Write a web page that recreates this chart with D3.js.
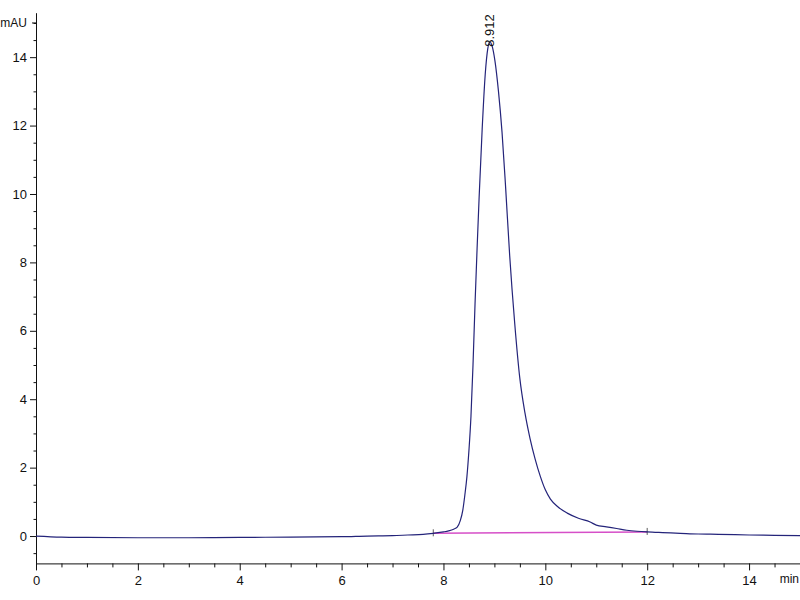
<!DOCTYPE html>
<html lang="en">
<head>
    <meta charset="utf-8">
    <style>
        body { margin: 0; background: #fff; }
        svg text { font-family: "Liberation Sans", Arial, sans-serif; fill: #111; }
        .axis path, .axis line { stroke: #111; }
    </style>
    <script src="https://d3js.org/d3.v7.min.js"></script>
</head>
<body>
<script>
    var width = 800, height = 600;

    // chromatogram trace (time in min, signal in mAU)
    var timeMin = [0, 0.5, 1, 2, 3, 4, 5, 6, 6.5, 7, 7.3, 7.6, 7.8, 8.0, 8.1, 8.2, 8.27, 8.33,
                   8.38, 8.42, 8.46, 8.5, 8.54, 8.58, 8.62, 8.66, 8.7, 8.76, 8.82, 8.87, 8.912, 8.96,
                   9.01, 9.08, 9.15, 9.22, 9.3, 9.4, 9.5, 9.6, 9.7, 9.8, 9.9, 10.0, 10.1, 10.25,
                   10.43, 10.65, 10.88, 11.0, 11.2, 11.4, 11.6, 11.8, 12.0, 12.3, 12.65, 13.0,
                   13.4, 14.0, 14.5, 15.0];
    var signal = [0, -0.03, -0.04, -0.05, -0.05, -0.04, -0.03, -0.02, 0, 0.01, 0.03, 0.05, 0.08,
                  0.12, 0.15, 0.2, 0.26, 0.45, 0.76, 1.2, 1.73, 2.5, 3.5, 5.0, 6.8, 8.4, 9.9, 11.9,
                  13.5, 14.25, 14.45, 14.3, 13.9, 13.0, 11.8, 10.2, 8.2, 6.2, 4.6, 3.6, 2.85, 2.25,
                  1.75, 1.35, 1.08, 0.85, 0.67, 0.52, 0.41, 0.32, 0.27, 0.22, 0.17, 0.14, 0.12, 0.1,
                  0.08, 0.06, 0.05, 0.03, 0.02, 0.01];

    // integration baseline
    var baseTime = [7.8, 12.0];
    var baseValue = [0.08, 0.12];

    var peakTime = 8.912, peakHeight = 14.45, peakLabel = "8.912";

    var xMajor = [0, 2, 4, 6, 8, 10, 12, 14];
    var yMajor = [0, 2, 4, 6, 8, 10, 12, 14];

    var svg = d3.select("body").append("svg")
        .attr("width", width)
        .attr("height", height);

    var x = d3.scaleLinear().domain([0, 15]).range([36, 800]);
    var y = d3.scaleLinear().domain([-0.8, 15.3]).range([563.4, 12.7]);

    // minor ticks every 0.5
    var xMinor = d3.range(0, 15.01, 0.5).filter(function(d) { return d % 2 !== 0; });
    var yMinor = d3.range(-0.5, 15.01, 0.5).filter(function(d) { return d % 2 !== 0 || d < 0; });

    svg.append("g").attr("class", "axis")
        .attr("transform", "translate(0," + y(-0.8) + ")")
        .call(d3.axisBottom(x).tickValues(xMinor).tickSize(4).tickFormat("").tickSizeOuter(0))
        .select(".domain").remove();

    var xAxis = svg.append("g").attr("class", "axis")
        .attr("transform", "translate(0," + y(-0.8) + ")")
        .call(d3.axisBottom(x).tickValues(xMajor).tickSize(7).tickSizeOuter(0).tickPadding(5));
    xAxis.selectAll("text").style("font-size", "13px");

    svg.append("g").attr("class", "axis")
        .attr("transform", "translate(" + x(0) + ",0)")
        .call(d3.axisLeft(y).tickValues(yMinor).tickSize(2.5).tickFormat("").tickSizeOuter(0))
        .select(".domain").remove();

    var yAxis = svg.append("g").attr("class", "axis")
        .attr("transform", "translate(" + x(0) + ",0)")
        .call(d3.axisLeft(y).tickValues(yMajor).tickSize(6).tickSizeOuter(0).tickPadding(3));
    yAxis.selectAll("text").style("font-size", "13px");

    // axis unit labels
    svg.append("text")
        .attr("x", x(0) - 9).attr("y", y(15))
        .attr("text-anchor", "end").attr("dominant-baseline", "central")
        .style("font-size", "12px")
        .text("mAU");
    svg.append("line")
        .attr("x1", x(0) - 4).attr("x2", x(0))
        .attr("y1", y(15)).attr("y2", y(15))
        .attr("stroke", "#111");

    svg.append("text")
        .attr("x", 799).attr("y", y(-0.8) + 20)
        .attr("text-anchor", "end")
        .style("font-size", "12px")
        .text("min");

    // integration baseline
    var basePts = baseTime.map(function(t, i) { return [t, baseValue[i]]; });
    svg.append("path")
        .datum(basePts)
        .attr("fill", "none")
        .attr("stroke", "#d64fc8")
        .attr("stroke-width", 1.6)
        .attr("d", d3.line().x(function(d) { return x(d[0]); }).y(function(d) { return y(d[1]); }));

    basePts.forEach(function(p) {
        svg.append("line")
            .attr("x1", x(p[0])).attr("x2", x(p[0]))
            .attr("y1", y(p[1]) - 4).attr("y2", y(p[1]) + 3)
            .attr("stroke", "#333").attr("stroke-width", 0.8);
    });

    // trace
    var pts = timeMin.map(function(t, i) { return [t, signal[i]]; });
    svg.append("path")
        .datum(pts)
        .attr("fill", "none")
        .attr("stroke", "#24247a")
        .attr("stroke-width", 1.2)
        .attr("d", d3.line()
            .curve(d3.curveMonotoneX)
            .x(function(d) { return x(d[0]); })
            .y(function(d) { return y(d[1]); }));

    // peak retention time label
    svg.append("text")
        .attr("transform", "translate(" + x(peakTime) + "," + (y(peakHeight) + 5) + ") rotate(-90)")
        .attr("dominant-baseline", "central")
        .style("font-size", "13px")
        .text(peakLabel);
</script>
</body>
</html>
